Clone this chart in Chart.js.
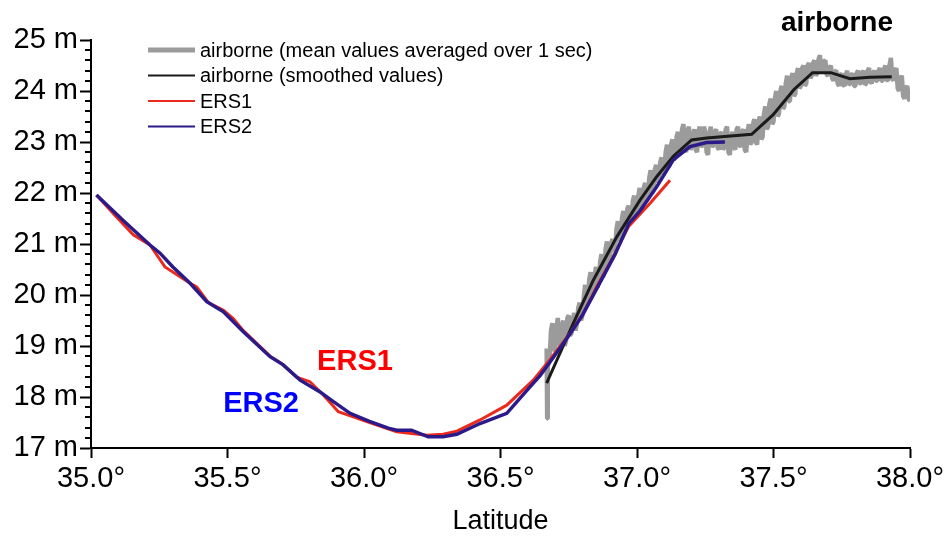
<!DOCTYPE html>
<html>
<head>
<meta charset="utf-8">
<script src="https://cdn.jsdelivr.net/npm/chart.js@4/dist/chart.umd.min.js"></script>
<style>
  html, body { margin: 0; padding: 0; background: #ffffff; }
  #wrap { width: 950px; height: 538px; }
</style>
</head>
<body>
<div id="wrap"><canvas id="c" width="950" height="538"></canvas></div>
<script>
const FONT = '"Liberation Sans", Arial, Helvetica, sans-serif';

// Axis ticks
const latTicks = [35.0, 35.5, 36.0, 36.5, 37.0, 37.5, 38.0];
const heightTicks = [17, 18, 19, 20, 21, 22, 23, 24, 25];

// ERS1 altimeter profile
const ers1Lat = [35.02, 35.09, 35.155, 35.216, 35.271, 35.363, 35.387, 35.43, 35.485, 35.521,
  35.558, 35.656, 35.70, 35.753, 35.802, 35.851, 35.906, 35.961, 36.01, 36.12,
  36.23, 36.29, 36.34, 36.425, 36.523, 36.62, 36.681, 36.755, 36.803, 36.852,
  36.913, 36.97, 37.048, 37.121];
const ers1Height = [21.96, 21.55, 21.18, 20.98, 20.55, 20.23, 20.16, 19.85, 19.70, 19.54,
  19.30, 18.80, 18.65, 18.39, 18.30, 18.04, 17.71, 17.61, 17.52, 17.32,
  17.25, 17.27, 17.33, 17.55, 17.84, 18.33, 18.73, 19.25, 19.64, 20.16,
  20.75, 21.35, 21.80, 22.25];

// ERS2 altimeter profile
const ers2Lat = [35.02, 35.12, 35.216, 35.253, 35.30, 35.363, 35.424, 35.485, 35.558, 35.656,
  35.704, 35.766, 35.839, 35.888, 35.949, 36.02, 36.089, 36.12, 36.174, 36.235,
  36.29, 36.34, 36.425, 36.523, 36.608, 36.645, 36.69, 36.75, 36.80, 36.86,
  36.92, 36.97, 37.011, 37.072, 37.133, 37.194, 37.255, 37.322];
const ers2Height = [21.96, 21.45, 20.98, 20.82, 20.55, 20.23, 19.87, 19.67, 19.28, 18.79,
  18.63, 18.33, 18.10, 17.91, 17.68, 17.52, 17.39, 17.35, 17.35, 17.22,
  17.22, 17.27, 17.48, 17.68, 18.20, 18.42, 18.75, 19.20, 19.60, 20.20,
  20.80, 21.40, 21.65, 22.12, 22.65, 22.91, 22.99, 23.00];

// Airborne profile, smoothed
const airSmoothLat = [36.669, 36.767, 36.84, 36.926, 37.011, 37.072, 37.133, 37.20, 37.255, 37.42,
  37.498, 37.575, 37.643, 37.71, 37.78, 37.853, 37.933];
const airSmoothHeight = [18.27, 19.45, 20.29, 21.14, 21.86, 22.32, 22.72, 23.04, 23.08, 23.15,
  23.53, 24.03, 24.36, 24.36, 24.24, 24.27, 24.28];

// Airborne profile, 1 s mean values
const airMeanLat = [36.669, 36.671, 36.673, 36.68, 36.685, 36.69, 36.695, 36.70, 36.705, 36.71,
  36.715, 36.72, 36.725, 36.73, 36.735, 36.74, 36.745, 36.75, 36.755, 36.76,
  36.765, 36.77, 36.775, 36.78, 36.785, 36.79, 36.795, 36.80, 36.805, 36.81,
  36.815, 36.82, 36.825, 36.83, 36.835, 36.84, 36.845, 36.85, 36.855, 36.86,
  36.865, 36.87, 36.875, 36.88, 36.885, 36.89, 36.895, 36.90, 36.905, 36.91,
  36.915, 36.92, 36.925, 36.93, 36.935, 36.94, 36.945, 36.95, 36.955, 36.96,
  36.965, 36.97, 36.975, 36.98, 36.985, 36.99, 36.995, 37.00, 37.005, 37.01,
  37.015, 37.02, 37.025, 37.03, 37.035, 37.04, 37.045, 37.05, 37.055, 37.06,
  37.065, 37.07, 37.075, 37.08, 37.085, 37.09, 37.095, 37.10, 37.105, 37.11,
  37.115, 37.12, 37.125, 37.13, 37.135, 37.14, 37.145, 37.15, 37.155, 37.16,
  37.165, 37.17, 37.175, 37.18, 37.185, 37.19, 37.195, 37.20, 37.205, 37.21,
  37.215, 37.22, 37.225, 37.23, 37.235, 37.24, 37.245, 37.25, 37.255, 37.26,
  37.265, 37.27, 37.275, 37.28, 37.285, 37.29, 37.295, 37.30, 37.305, 37.31,
  37.315, 37.32, 37.325, 37.33, 37.335, 37.34, 37.345, 37.35, 37.355, 37.36,
  37.365, 37.37, 37.375, 37.38, 37.385, 37.39, 37.395, 37.40, 37.405, 37.41,
  37.415, 37.42, 37.425, 37.43, 37.435, 37.44, 37.445, 37.45, 37.455, 37.46,
  37.465, 37.47, 37.475, 37.48, 37.485, 37.49, 37.495, 37.50, 37.505, 37.51,
  37.515, 37.52, 37.525, 37.53, 37.535, 37.54, 37.545, 37.55, 37.555, 37.56,
  37.565, 37.57, 37.575, 37.58, 37.585, 37.59, 37.595, 37.60, 37.605, 37.61,
  37.615, 37.62, 37.625, 37.63, 37.635, 37.64, 37.645, 37.65, 37.655, 37.66,
  37.665, 37.67, 37.675, 37.68, 37.685, 37.69, 37.695, 37.70, 37.705, 37.71,
  37.715, 37.72, 37.725, 37.73, 37.735, 37.74, 37.745, 37.75, 37.755, 37.76,
  37.765, 37.77, 37.775, 37.78, 37.785, 37.79, 37.795, 37.80, 37.805, 37.81,
  37.815, 37.82, 37.825, 37.83, 37.835, 37.84, 37.845, 37.85, 37.855, 37.86,
  37.865, 37.87, 37.875, 37.88, 37.885, 37.89, 37.895, 37.90, 37.905, 37.91,
  37.915, 37.92, 37.925, 37.93, 37.935, 37.94, 37.945, 37.95, 37.955, 37.96,
  37.965, 37.97, 37.975, 37.98, 37.985, 37.99, 37.995, 38.00];
const airMeanHeight = [18.95, 17.58, 18.60, 18.75, 19.30, 19.45, 18.90, 18.95, 19.35, 19.55,
  19.05, 19.00, 19.40, 19.50, 19.00, 19.10, 19.55, 19.60, 19.20, 19.25,
  19.50, 19.65, 19.30, 19.45, 19.75, 19.85, 19.50, 19.60, 19.95, 20.20,
  19.80, 19.85, 20.30, 20.45, 20.00, 20.05, 20.40, 20.55, 20.15, 20.25,
  20.65, 20.80, 20.35, 20.45, 20.90, 21.05, 20.60, 20.65, 21.00, 21.10,
  20.85, 20.90, 21.30, 21.45, 21.05, 21.10, 21.50, 21.65, 21.25, 21.30,
  21.70, 21.75, 21.40, 21.45, 21.85, 21.95, 21.55, 21.60, 21.95, 22.10,
  21.70, 21.75, 22.10, 22.20, 21.85, 21.90, 22.30, 22.45, 22.00, 22.05,
  22.45, 22.55, 22.20, 22.25, 22.60, 22.70, 22.35, 22.40, 22.80, 22.95,
  22.50, 22.55, 22.95, 23.05, 22.65, 22.70, 23.10, 23.20, 22.80, 22.85,
  23.25, 23.35, 22.85, 22.80, 23.20, 23.30, 22.85, 22.90, 23.15, 23.25,
  22.85, 22.80, 23.20, 23.30, 22.90, 22.95, 23.30, 23.20, 22.80, 22.75,
  23.15, 23.30, 22.90, 22.95, 23.20, 23.25, 22.90, 22.85, 23.15, 23.20,
  22.85, 22.90, 23.25, 23.30, 22.80, 22.75, 23.10, 23.20, 22.90, 22.85,
  23.25, 23.30, 22.95, 22.90, 23.20, 23.25, 22.85, 22.80, 23.20, 23.35,
  22.95, 23.00, 23.35, 23.45, 23.00, 22.95, 23.40, 23.50, 23.05, 23.10,
  23.55, 23.70, 23.25, 23.30, 23.75, 23.85, 23.35, 23.40, 23.85, 24.00,
  23.50, 23.55, 24.00, 24.10, 23.65, 23.70, 24.15, 24.30, 23.80, 23.80,
  24.25, 24.35, 23.90, 23.95, 24.35, 24.45, 24.05, 24.10, 24.45, 24.50,
  24.10, 24.15, 24.50, 24.55, 24.25, 24.30, 24.55, 24.60, 24.30, 24.35,
  24.62, 24.70, 24.38, 24.40, 24.58, 24.60, 24.32, 24.30, 24.45, 24.50,
  24.25, 24.20, 24.38, 24.40, 24.15, 24.10, 24.30, 24.35, 24.12, 24.10,
  24.32, 24.40, 24.12, 24.15, 24.30, 24.35, 24.10, 24.10, 24.35, 24.40,
  24.15, 24.15, 24.35, 24.40, 24.12, 24.15, 24.40, 24.45, 24.18, 24.15,
  24.35, 24.40, 24.20, 24.20, 24.40, 24.45, 24.20, 24.20, 24.42, 24.50,
  24.22, 24.20, 24.50, 24.65, 24.25, 24.20, 24.40, 24.45, 24.05, 24.00,
  24.25, 24.30, 23.90, 23.85, 24.05, 24.10, 23.85, 23.80];

const pairs = (xs, ys) => xs.map((x, i) => ({ x: x, y: ys[i] }));

const COLORS = {
  mean: '#9b9b9b',
  smooth: '#1a1a1a',
  ers1: '#ec2a1c',
  ers2: '#2c1a8a'
};

// Legend entries, in-plot labels, minor ticks and the corner title
const decorations = {
  id: 'decorations',
  afterDraw(chart) {
    const ctx = chart.ctx;
    const xs = chart.scales.x, ys = chart.scales.y;
    const area = chart.chartArea;
    ctx.save();

    // minor ticks on the height axis, every 0.2 m
    ctx.strokeStyle = '#000';
    ctx.lineWidth = 2;
    for (let k = 0; k <= 40; k++) {
      if (k % 5 === 0) continue;
      const v = ys.min + k * 0.2;
      const py = Math.round(ys.getPixelForValue(v));
      ctx.beginPath();
      ctx.moveTo(area.left - 6, py);
      ctx.lineTo(area.left, py);
      ctx.stroke();
    }

    // legend
    const rows = [
      { ds: 0, w: 5 },
      { ds: 1, w: 2 },
      { ds: 2, w: 2 },
      { ds: 3, w: 2 }
    ];
    ctx.font = '20px ' + FONT;
    ctx.textBaseline = 'middle';
    ctx.textAlign = 'left';
    rows.forEach((r, i) => {
      const d = chart.data.datasets[r.ds];
      const y = 50 + i * 25.5;
      ctx.strokeStyle = d.borderColor;
      ctx.lineWidth = r.w;
      ctx.beginPath();
      ctx.moveTo(148, y);
      ctx.lineTo(195, y);
      ctx.stroke();
      ctx.fillStyle = '#000';
      ctx.fillText(d.label, 200, y + 1);
    });

    // corner title
    ctx.font = 'bold 28px ' + FONT;
    ctx.textAlign = 'center';
    ctx.fillStyle = '#000';
    ctx.fillText('airborne', 837, 23);

    // series labels inside the plot
    ctx.font = 'bold 29px ' + FONT;
    ctx.fillStyle = '#ff0000';
    ctx.fillText('ERS1', xs.getPixelForValue(35.967), ys.getPixelForValue(18.69));
    ctx.fillStyle = '#0000ff';
    ctx.fillText('ERS2', xs.getPixelForValue(35.623), ys.getPixelForValue(17.86));

    ctx.restore();
  }
};

new Chart(document.getElementById('c'), {
  type: 'line',
  data: {
    datasets: [
      {
        label: 'airborne (mean values averaged over 1 sec)',
        data: pairs(airMeanLat, airMeanHeight),
        borderColor: COLORS.mean,
        borderWidth: 4.5,
        borderJoinStyle: 'bevel',
        order: 4
      },
      {
        label: 'airborne (smoothed values)',
        data: pairs(airSmoothLat, airSmoothHeight),
        borderColor: COLORS.smooth,
        borderWidth: 3,
        order: 3
      },
      {
        label: 'ERS1',
        data: pairs(ers1Lat, ers1Height),
        borderColor: COLORS.ers1,
        borderWidth: 3,
        order: 2
      },
      {
        label: 'ERS2',
        data: pairs(ers2Lat, ers2Height),
        borderColor: COLORS.ers2,
        borderWidth: 3.5,
        order: 1
      }
    ]
  },
  options: {
    responsive: false,
    devicePixelRatio: 1,
    animation: false,
    elements: {
      point: { radius: 0, hoverRadius: 0 },
      line: { tension: 0, fill: false, borderJoinStyle: 'miter', borderCapStyle: 'butt' }
    },
    layout: { padding: { left: 0, top: 40, right: 40, bottom: 0 } },
    plugins: {
      legend: { display: false },
      tooltip: { enabled: false },
      title: { display: false }
    },
    scales: {
      x: {
        type: 'linear',
        min: latTicks[0],
        max: latTicks[latTicks.length - 1],
        afterBuildTicks(scale) { scale.ticks = latTicks.map(v => ({ value: v })); },
        afterFit(scale) { scale.height = 90; },
        ticks: {
          callback: v => v.toFixed(1) + '°',
          font: { family: FONT, size: 29 },
          color: '#000',
          padding: 4,
          maxRotation: 0,
          autoSkip: false
        },
        grid: { drawOnChartArea: false, tickLength: 10, tickWidth: 2, tickColor: '#000' },
        border: { display: true, color: '#000', width: 2 },
        title: {
          display: true,
          text: 'Latitude',
          font: { family: FONT, size: 27 },
          color: '#000',
          padding: { top: 0, bottom: 0 }
        }
      },
      y: {
        type: 'linear',
        min: heightTicks[0],
        max: heightTicks[heightTicks.length - 1],
        afterBuildTicks(scale) { scale.ticks = heightTicks.map(v => ({ value: v })); },
        afterFit(scale) { scale.width = 91; },
        ticks: {
          callback: v => v + ' m',
          font: { family: FONT, size: 29 },
          color: '#000',
          padding: 2,
          autoSkip: false
        },
        grid: { drawOnChartArea: false, tickLength: 11, tickWidth: 2, tickColor: '#000' },
        border: { display: true, color: '#000', width: 2 }
      }
    }
  },
  plugins: [decorations]
});
</script>
</body>
</html>
